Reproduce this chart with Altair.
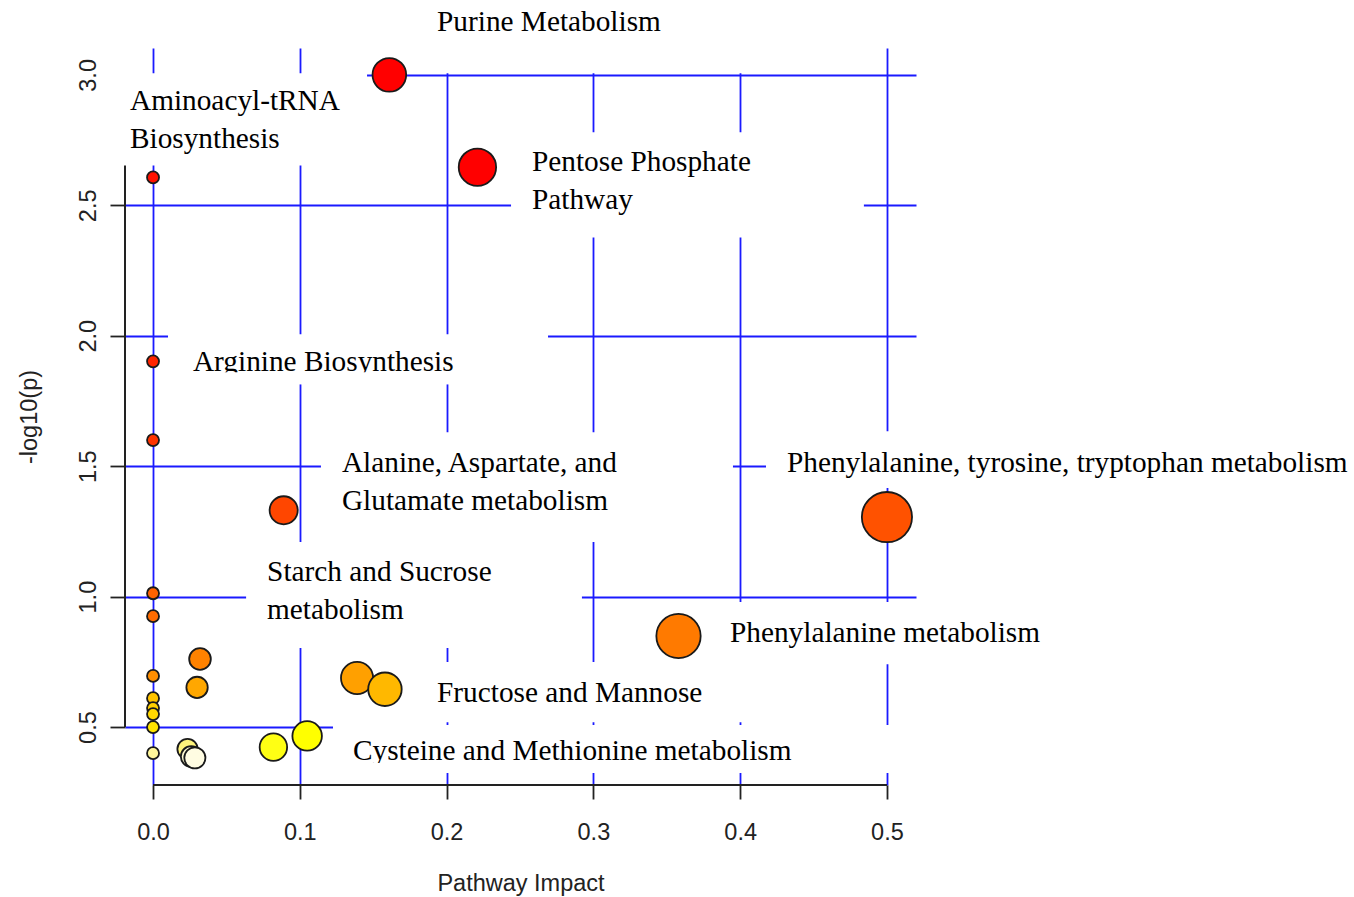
import altair as alt
import pandas as pd

# Pathway nodes: impact (x) and -log10(p) (y), listed from most to least significant
impact = [0.161, 0.221, 0.0, 0.0, 0.0, 0.089, 0.500, 0.0, 0.0, 0.358, 0.032, 0.0, 0.139,
          0.030, 0.158, 0.0, 0.0, 0.0, 0.0, 0.105, 0.082, 0.0235, 0.0, 0.026, 0.0285]
neglog_p = [3.000, 2.646, 2.607, 1.902, 1.600, 1.331, 1.305, 1.013, 0.925, 0.849, 0.761, 0.696, 0.688,
            0.652, 0.645, 0.611, 0.573, 0.550, 0.500, 0.466, 0.423, 0.416, 0.400, 0.387, 0.382]

# Annotation lines (one row per printed line)
label_text = ["Purine Metabolism", "Aminoacyl-tRNA", "Biosynthesis", "Pentose Phosphate", "Pathway",
              "Arginine Biosynthesis", "Alanine, Aspartate, and", "Glutamate metabolism",
              "Phenylalanine, tyrosine, tryptophan metabolism", "Starch and Sucrose", "metabolism",
              "Phenylalanine metabolism", "Fructose and Mannose", "Cysteine and Methionine metabolism"]
label_x = [0.1935, -0.0157, -0.0157, 0.2582, 0.2582, 0.0272, 0.1287, 0.1287,
           0.4319, 0.0777, 0.0777, 0.3931, 0.1935, 0.1362]
label_y = [3.167, 2.864, 2.718, 2.630, 2.485, 1.864, 1.477, 1.331,
           1.477, 1.059, 0.914, 0.826, 0.596, 0.374]

# White backing boxes behind each annotation
box_x1 = [0.1819, -0.0361, 0.2439, 0.0102, 0.1144, 0.4176, 0.0634, 0.3045, 0.1138, 0.1226]
box_x2 = [0.4339, 0.1458, 0.4843, 0.2691, 0.3951, 0.8181, 0.2922, 0.6110, 0.4203, 0.5225]
box_y1 = [3.006, 2.653, 2.377, 1.814, 1.209, 1.416, 0.803, 0.741, 0.519, 0.3238]
box_y2 = [3.286, 3.006, 2.780, 2.006, 1.630, 1.634, 1.209, 0.979, 0.749, 0.5077]

# Lower edges of the boxes that trim their own text
trim_x1 = [0.0102, 0.1226]
trim_x2 = [0.2691, 0.5225]
trim_y1 = [1.814, 0.3238]
trim_y2 = [1.860, 0.362]

x_ticks = [0.0, 0.1, 0.2, 0.3, 0.4, 0.5]
y_ticks = [0.5, 1.0, 1.5, 2.0, 2.5, 3.0]

XMIN, XMAX = -0.0191, 0.5198
YMIN, YMAX = 0.278, 3.103

nodes = pd.DataFrame({"impact": impact, "p": neglog_p})
labels = pd.DataFrame({"text": label_text, "x": label_x, "y": label_y})
boxes = pd.DataFrame({"x1": box_x1, "x2": box_x2, "y1": box_y1, "y2": box_y2})
trims = pd.DataFrame({"x1": trim_x1, "x2": trim_x2, "y1": trim_y1, "y2": trim_y2})

BLUE = "#1a1aff"
INK = "#222222"
SANS = "Liberation Sans"
SERIF = "Liberation Serif"
AXIS_FS = 23.5

xs = alt.Scale(domain=[XMIN, XMAX], nice=False, zero=False)
ys = alt.Scale(domain=[YMIN, YMAX], nice=False, zero=False)

xa = alt.Axis(title="Pathway Impact", values=x_ticks, format=".1f", domain=False,
              grid=True, gridColor=BLUE, gridWidth=1.8, gridOpacity=1,
              tickColor=INK, tickWidth=1.8, tickSize=14,
              labelFont=SANS, labelFontSize=AXIS_FS, labelColor=INK, labelPadding=21,
              labelFlush=False, labelOverlap=False,
              titleFont=SANS, titleFontSize=AXIS_FS, titleFontWeight="normal",
              titleColor=INK, titlePadding=28)
ya = alt.Axis(title="-log10(p)", values=y_ticks, format=".1f", domain=False,
              grid=True, gridColor=BLUE, gridWidth=1.8, gridOpacity=1,
              tickColor=INK, tickWidth=1.8, tickSize=15,
              labelFont=SANS, labelFontSize=AXIS_FS, labelColor=INK, labelPadding=10,
              labelAngle=270, labelAlign="center", labelBaseline="bottom",
              labelFlush=False, labelOverlap=False,
              titleFont=SANS, titleFontSize=AXIS_FS, titleFontWeight="normal",
              titleColor=INK, titlePadding=35)

# Axis lines spanning only the tick range
x_line = alt.Chart(nodes).mark_rule(color=INK, strokeWidth=2).encode(
    x=alt.datum(0.0, scale=xs, axis=xa, type="quantitative"),
    x2=alt.datum(0.5),
    y=alt.datum(YMIN, scale=ys, axis=ya, type="quantitative"),
)
y_line = alt.Chart(nodes).mark_rule(color=INK, strokeWidth=2).encode(
    x=alt.datum(XMIN, scale=xs, axis=xa, type="quantitative"),
    y=alt.datum(0.5, scale=ys, axis=ya, type="quantitative"),
    y2=alt.datum(3.0),
)

box_layer = alt.Chart(boxes).mark_rect(color="white").encode(
    x=alt.X("x1:Q", scale=xs, axis=xa), x2="x2:Q",
    y=alt.Y("y1:Q", scale=ys, axis=ya), y2="y2:Q",
)

color_domain = [0.382, 0.392, 0.400, 0.416, 0.423, 0.466, 0.500, 0.550, 0.611, 0.645, 0.652, 0.688,
                0.696, 0.761, 0.849, 0.925, 1.013, 1.305, 1.331, 1.600, 1.902, 2.607, 2.646]
color_range = ["#FFFCE2", "#FFF9C4", "#FFF79A", "#FFF47C", "#FFFF14", "#FFFF00", "#FFE400", "#FFD700",
               "#FFC300", "#FFB800", "#FFA700", "#FFA000", "#FF8E00", "#FF8200", "#FF7A00", "#FF6C00",
               "#FF6200", "#FF5200", "#FF4600", "#FF3400", "#FF2400", "#FF1200", "#FF0000"]

points = alt.Chart(nodes).transform_calculate(
    area="pow(2 * (6.0 + 27 * sqrt(datum.impact)), 2)"
).mark_circle(opacity=1, stroke="#1a1a1a", strokeWidth=1.8).encode(
    x=alt.X("impact:Q", scale=xs, axis=xa),
    y=alt.Y("p:Q", scale=ys, axis=ya),
    size=alt.Size("area:Q", scale=None),
    color=alt.Color("p:Q", scale=alt.Scale(domain=color_domain, range=color_range,
                                           interpolate="rgb", clamp=True), legend=None),
)

texts = alt.Chart(labels).mark_text(align="left", baseline="alphabetic", font=SERIF,
                                    fontSize=29.3, color="black").encode(
    x=alt.X("x:Q", scale=xs, axis=xa),
    y=alt.Y("y:Q", scale=ys, axis=ya),
    text="text:N",
)

trim_layer = alt.Chart(trims).mark_rect(color="white").encode(
    x=alt.X("x1:Q", scale=xs, axis=xa), x2="x2:Q",
    y=alt.Y("y1:Q", scale=ys, axis=ya), y2="y2:Q",
)

chart = alt.layer(x_line, y_line, box_layer, points, texts, trim_layer).properties(
    width=791, height=737,
    padding={"left": 125, "top": 48, "right": 438, "bottom": 112},
    autosize=alt.AutoSizeParams(type="none"),
).configure_view(stroke=None)

chart.save("out.html", embed_options={"renderer": "svg", "actions": False})
